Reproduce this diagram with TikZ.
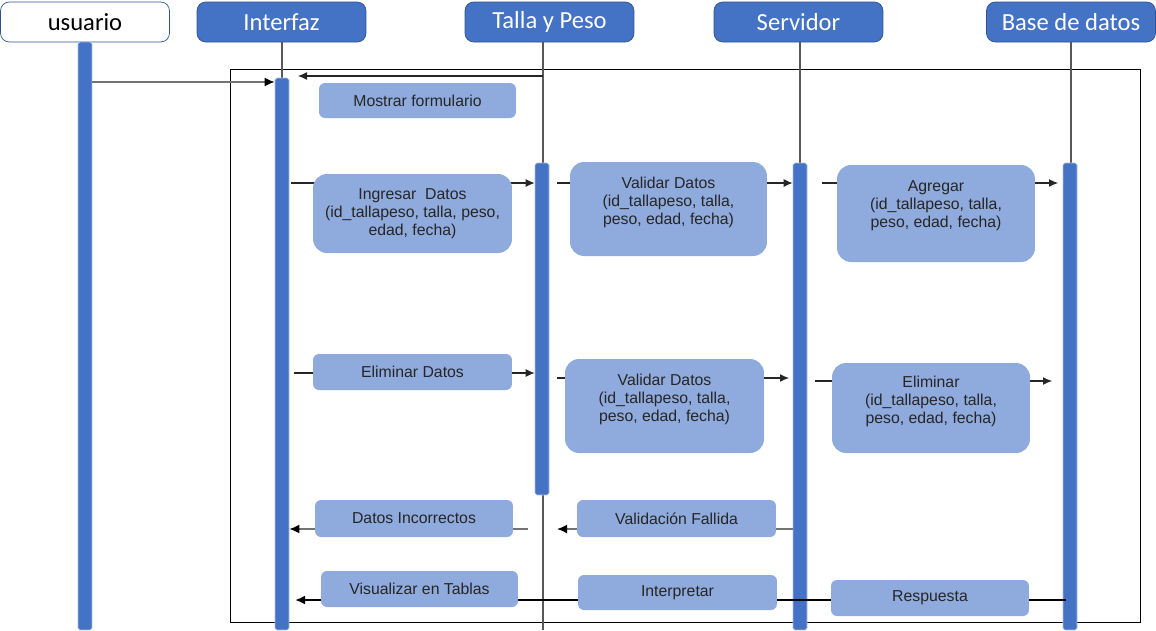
\documentclass[tikz,border=0pt]{standalone}
\usepackage{fontspec}
\setmainfont{Liberation Sans}
\newfontfamily\hdrfont{Carlito}
\usetikzlibrary{arrows.meta}

\definecolor{hdrblue}{HTML}{4472C4}
\definecolor{hdrline}{HTML}{2F528F}
\definecolor{msgblue}{HTML}{8FAADC}
\definecolor{msgtext}{HTML}{262626}
\definecolor{barline}{HTML}{A9BFE6}

\tikzset{
  actor/.style={rectangle, rounded corners=5pt, draw=hdrline, fill=hdrblue,
    text=white, inner sep=0pt, minimum width=3.38cm, minimum height=0.8cm,
    font=\hdrfont\fontsize{14}{16}\selectfont},
  actorw/.style={actor, fill=white, text=black},
  act/.style={rectangle, rounded corners=1pt, draw=barline, fill=hdrblue,
    inner sep=0pt, minimum width=0.28cm},
  msg/.style={rectangle, rounded corners=0.12cm, fill=msgblue, text=msgtext,
    inner sep=0pt, align=center, font=\fontsize{9}{10.2}\selectfont},
  tallmsg/.style={msg, rounded corners=0.28cm},
  life/.style={draw=black!65, line width=0.6pt},
  call/.style={draw=black!85, line width=0.6pt, -{Latex[length=1.8mm,width=1.6mm]}},
  back/.style={draw=black!55, line width=0.9pt, -{Latex[length=2mm,width=1.8mm,black]}},
}

\begin{document}
\begin{tikzpicture}[x=0.02cm, y=-0.02cm]
      \useasboundingbox (0,0) rectangle (1156,630);
      % frame
      \draw[black, line width=0.5pt] (230,69) rectangle (1140,622);
      % actors
      \node[actorw] (usuario) at (85,22) {usuario};
      \node[actor] (interfaz) at (281.5,22) {Interfaz};
      \node[actor] (talla) at (549.5,22) {Talla y Peso};
      \node[actor] (servidor) at (798.5,22) {Servidor};
      \node[actor] (bd) at (1071,22) {Base de datos};
      % lifelines
      \coordinate (tEnd) at (543,630);
      \draw[life] (tEnd |- talla.south) -- (tEnd);
      \draw[life] (282,42) -- (282,78);
      \draw[life] (800,42) -- (800,163);
      \draw[life] (1071,42) -- (1071,163);
      % activations
      \node[act, minimum height=11.76cm] (barU) at (85,336) {};
      \node[act, minimum height=11.04cm] (barI) at (282,354) {};
      \node[act, minimum height=6.64cm] (barT) at (542,329) {};
      \node[act, minimum height=9.34cm] (barS) at (800,396.5) {};
      \node[act, minimum height=9.34cm] (barB) at (1070,396.5) {};
      % message ends
      \coordinate (u1) at (92,82);
      \coordinate (t0) at (543,76);
      \coordinate (i0) at (298,76);
      \coordinate (i1) at (291,183);
      \coordinate (t1) at (557,183);
      \coordinate (s1) at (822,183);
      \coordinate (b1) at (1058,183);
      \coordinate (i2) at (294,373);
      \coordinate (t2) at (557,378);
      \coordinate (s2) at (789,378);
      \coordinate (s3) at (815,381);
      \coordinate (b3) at (1052,381);
      \coordinate (t4) at (528,529);
      \coordinate (t5) at (557,529);
      \coordinate (b6) at (1066,600);
      \coordinate (i6) at (295,600);
      % messages
      \draw[back] (u1) -- (u1 -| barI.west);
      \draw[call] (t0) -- (i0);
      \draw[call] (i1) -- (i1 -| barT.west);
      \draw[call] (t1) -- (t1 -| barS.west);
      \draw[call] (s1) -- (b1);
      \draw[call] (i2) -- (i2 -| barT.west);
      \draw[call] (t2) -- (s2);
      \draw[call] (s3) -- (b3);
      \draw[back] (t4) -- (t4 -| barI.east);
      \draw[back] (t5 -| barS.west) -- (t5);
      \draw[black, line width=1.3pt, -{Latex[length=2mm,width=1.8mm]}] (b6) -- (i6);
      % labels
      \node[msg, minimum width=3.94cm, minimum height=0.7cm] (mostrar) at (417.5,100.5) {Mostrar formulario};
      \node[tallmsg, minimum width=3.98cm, minimum height=1.58cm] (ingresar) at (412.5,213.5)
        {Ingresar~ Datos\\(id\_tallapeso, talla, peso,\\edad, fecha)};
      \node[tallmsg, minimum width=3.94cm, minimum height=1.88cm,
        label={[msg, fill=none, yshift=0.14cm]center:Validar Datos\\(id\_tallapeso, talla,\\peso, edad, fecha)}]
        (validar1) at (668.5,209) {};
      \node[tallmsg, minimum width=3.96cm, minimum height=1.94cm,
        label={[msg, fill=none, yshift=0.15cm]center:Agregar\\(id\_tallapeso, talla,\\peso, edad, fecha)}]
        (agregar) at (936,213.5) {};
      \node[msg, minimum width=3.98cm, minimum height=0.72cm] (eliminarD) at (412.5,372) {Eliminar Datos};
      \node[tallmsg, minimum width=3.98cm, minimum height=1.88cm,
        label={[msg, fill=none, yshift=0.14cm]center:Validar Datos\\(id\_tallapeso, talla,\\peso, edad, fecha)}]
        (validar2) at (664.5,406) {};
      \node[tallmsg, minimum width=3.96cm, minimum height=1.8cm,
        label={[msg, fill=none, yshift=0.14cm]center:Eliminar\\(id\_tallapeso, talla,\\peso, edad, fecha)}]
        (eliminar) at (931,408) {};
      \node[msg, minimum width=3.96cm, minimum height=0.74cm] (incorrectos) at (414,518.5) {Datos Incorrectos};
      \node[msg, minimum width=3.98cm, minimum height=0.74cm] (fallida) at (676.5,518.5) {Validación Fallida};
      \node[msg, minimum width=3.94cm, minimum height=0.72cm] (visualizar) at (419.5,589) {Visualizar en Tablas};
      \node[msg, minimum width=3.98cm, minimum height=0.7cm] (interpretar) at (677.5,592.5) {Interpretar};
      \node[msg, minimum width=3.96cm, minimum height=0.72cm] (respuesta) at (930,598) {Respuesta};
    \end{tikzpicture}
\end{document}
